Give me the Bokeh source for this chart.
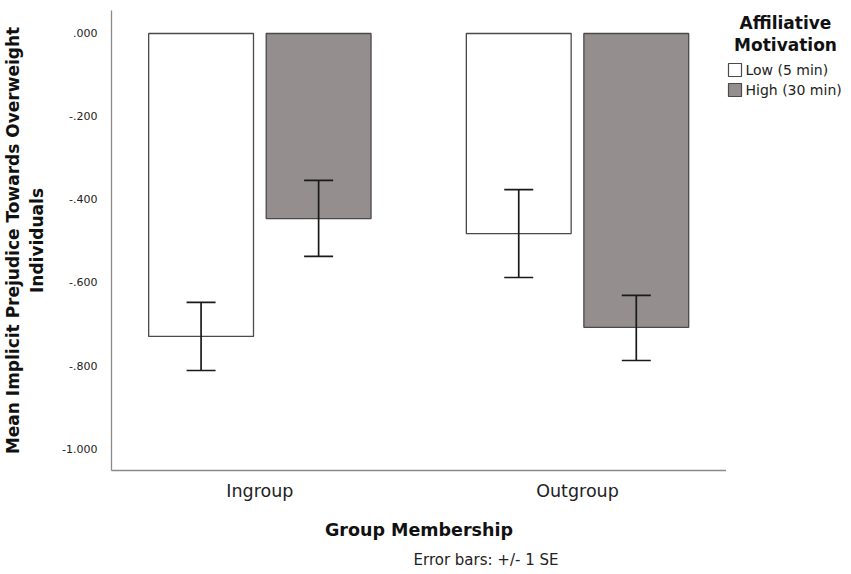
from bokeh.plotting import figure
from bokeh.layouts import row
from bokeh.models import (ColumnDataSource, Whisker, TeeHead,
                          FixedTicker, Title, Range1d, Label)
from bokeh.core.properties import value
from bokeh.embed import file_html
from bokeh.resources import INLINE

# ---- data ----
groups = ["Ingroup", "Outgroup"]
conditions = ["Low (5 min)", "High (30 min)"]
legend_title = ["Affiliative", "Motivation"]
low_means = [-0.730, -0.482]
low_upper = [-0.648, -0.376]
low_lower = [-0.812, -0.588]
high_means = [-0.446, -0.708]
high_upper = [-0.354, -0.631]
high_lower = [-0.537, -0.788]
y_ticks = [0.0, -0.2, -0.4, -0.6, -0.8, -1.0]
y_tick_labels = [".000", "-.200", "-.400", "-.600", "-.800", "-1.000"]

FONT = "DejaVu Sans"
LOW_COLOR = "#ffffff"
HIGH_COLOR = "#948e8e"
EDGE = "#4a4a4a"
TXT = "#111111"

group_pos = [i + 1 for i in range(len(groups))]
dodge = 0.185
bar_w = 0.33

low_src = ColumnDataSource(dict(x=[g - dodge for g in group_pos], top=low_means,
                                upper=low_upper, lower=low_lower))
high_src = ColumnDataSource(dict(x=[g + dodge for g in group_pos], top=high_means,
                                 upper=high_upper, lower=high_lower))

p = figure(width=726, height=574, output_backend="svg", toolbar_location=None,
           x_range=Range1d(0.533, 2.469), y_range=Range1d(-1.053, 0.0554),
           min_border_left=111, min_border_right=0, min_border_top=10,
           min_border_bottom=104)
p.outline_line_color = None
p.xgrid.visible = False
p.ygrid.visible = False

r_low = p.vbar(x="x", top="top", bottom=0, width=bar_w, source=low_src,
               fill_color=LOW_COLOR, line_color=EDGE, line_width=1.3)
r_high = p.vbar(x="x", top="top", bottom=0, width=bar_w, source=high_src,
                fill_color=HIGH_COLOR, line_color=EDGE, line_width=1.3)

for src in (low_src, high_src):
    w = Whisker(base="x", upper="upper", lower="lower", source=src,
                line_color="#1a1a1a", line_width=1.7, level="overlay",
                upper_head=TeeHead(size=29, line_color="#1a1a1a", line_width=1.7),
                lower_head=TeeHead(size=29, line_color="#1a1a1a", line_width=1.7))
    p.add_layout(w)

# axes
p.xaxis.ticker = FixedTicker(ticks=group_pos)
p.xaxis.major_label_overrides = {g: name for g, name in zip(group_pos, groups)}
p.yaxis.ticker = FixedTicker(ticks=y_ticks)
p.yaxis.major_label_overrides = {t: s for t, s in zip(y_ticks, y_tick_labels)}

for ax in (p.xaxis[0], p.yaxis[0]):
    ax.axis_line_color = "#8a8a8a"
    ax.axis_line_width = 1.3
    ax.major_tick_line_color = None
    ax.minor_tick_line_color = None
    ax.major_tick_out = 0
    ax.major_tick_in = 0
    ax.minor_tick_out = 0
    ax.major_label_text_font = FONT
    ax.axis_label_text_font = FONT
    ax.axis_label_text_font_style = "bold"
    ax.axis_label_text_color = TXT
    ax.major_label_text_color = "#222222"

p.yaxis.major_label_text_font_size = "11px"
p.yaxis.major_label_standoff = 14
p.yaxis.axis_label = "Mean Implicit Prejudice Towards Overweight\nIndividuals"
p.yaxis.axis_label_text_font_size = "17px"
p.yaxis.axis_label_standoff = 12

p.xaxis.major_label_text_font_size = "17.5px"
p.xaxis.major_label_standoff = 10
p.xaxis.axis_label = "Group Membership"
p.xaxis.axis_label_text_font_size = "17.5px"
p.xaxis.axis_label_standoff = 16

foot = Title(text="Error bars: +/- 1 SE", align="left", offset=302,
             text_font=FONT, text_font_size="15px", text_font_style="normal",
             text_color="#222222", standoff=12)
p.add_layout(foot, "below")

# ---- legend panel (drawn in its own small figure to the right) ----
# its frame is aligned with the main frame (page y 10..470), so the y range
# is expressed in page pixels from the top.
q = figure(width=125, height=574, output_backend="svg", toolbar_location=None,
           x_range=Range1d(0, 125), y_range=Range1d(470, 10),
           min_border=0, min_border_left=0, min_border_right=0,
           min_border_top=10, min_border_bottom=104)
q.axis.visible = False
q.xgrid.visible = False
q.ygrid.visible = False
q.outline_line_color = None

for i, t in enumerate(legend_title):
    q.add_layout(Label(x=59, y=22 + 22 * i, text=t, text_align="center",
                       text_baseline="middle", text_font=FONT,
                       text_font_style="bold", text_font_size="17px",
                       text_color=TXT))

leg_src = ColumnDataSource(dict(x=[8.5, 8.5], y=[69.5, 89.5],
                                tx=[19, 19], label=conditions,
                                color=[LOW_COLOR, HIGH_COLOR]))
q.rect(x="x", y="y", width=13, height=13, source=leg_src,
       fill_color="color", line_color=EDGE, line_width=1.2)
q.text(x="tx", y="y", text="label", source=leg_src, text_font=value(FONT),
       text_font_size="14px", text_color="#222222", text_baseline="middle",
       text_align="left")

open("out.html", "w").write(file_html(row(p, q), INLINE))
